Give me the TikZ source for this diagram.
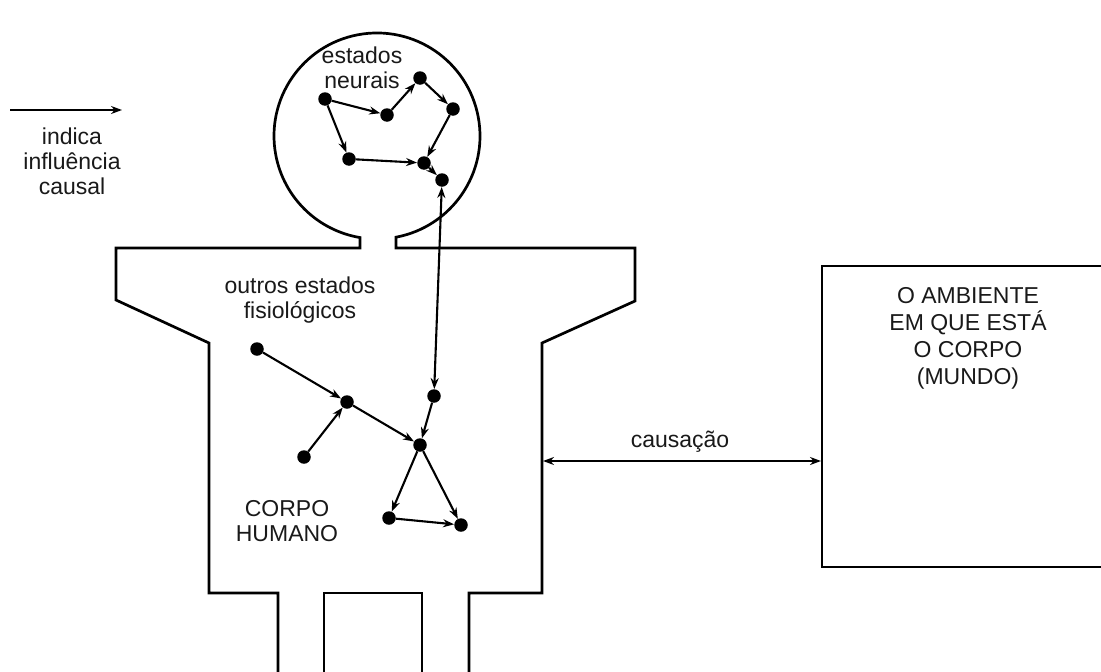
\documentclass[tikz,border=0pt]{standalone}
\usepackage{fontspec}
\setmainfont{Liberation Sans}
\usetikzlibrary{arrows.meta}
\begin{document}
\begin{tikzpicture}[x=1pt,y=-1pt,
  dot/.style={circle, fill=black, minimum size=13.5pt, inner sep=0pt},
  link/.style={line width=2.1pt, -{Stealth[length=11pt,width=8pt]}},
  biglink/.style={line width=2.1pt, {Stealth[length=11pt,width=8pt]}-{Stealth[length=11pt,width=8pt]}},
  outline/.style={line width=2.7pt, line join=miter},
  lbl/.style={font=\fontsize{23}{25}\selectfont, align=center, text=black!90},
  boxlbl/.style={font=\fontsize{23}{27}\selectfont, align=center, text=black!90}]
\useasboundingbox (0,0) rectangle (1101,672);

% body outline with head
\draw[outline] (469,672) -- (469,593) -- (542,593) -- (542,343) -- (635,301) -- (635,248)
  -- (396,248) -- (396,237.2) arc[start angle=79.37, end angle=-260.5, radius=103]
  -- (360,248) -- (116,248) -- (116,300) -- (209,343) -- (209,593) -- (278,593) -- (278,672);
\draw[outline] (324,672) -- (324,593) -- (422,593) -- (422,672);

% environment box
\draw[outline] (1101,266) -- (822,266) -- (822,567) -- (1101,567);
\coordinate (bodyR) at (543,461);
\coordinate (envL) at (821,461);
\draw[biglink] (bodyR) -- (envL);
\node[lbl] (caus) at (680,442) {causação};
\node[boxlbl] (amb) at (968,338) {O AMBIENTE\\EM QUE ESTÁ\\O CORPO\\(MUNDO)};

% legend
\coordinate (lg1) at (10,110);
\coordinate (lg2) at (122,110);
\draw[link, line width=2.6pt] (lg1) -- (lg2);
\node[lbl] (leg) at (72,161) {indica\\influência\\causal};

% labels
\node[lbl] (neur) at (362,68) {estados\\neurais};
\node[lbl] (outr) at (300,300) {outros estados\\fisiológicos};
\node[lbl] (corpo) at (287,521) {CORPO\\HUMANO};

% head dots
\node[dot] (A) at (325,99) {};
\node[dot] (B) at (387,115) {};
\node[dot] (C) at (420,78) {};
\node[dot] (D) at (453,109) {};
\node[dot] (E) at (349,159) {};
\node[dot] (F) at (424,163) {};
\node[dot] (G) at (442,180) {};

% body dots
\node[dot] (I) at (257,349) {};
\node[dot] (J) at (347,402) {};
\node[dot] (K) at (304,457) {};
\node[dot] (L) at (420,445) {};
\node[dot] (H) at (434,396) {};
\node[dot] (M) at (389,518) {};
\node[dot] (N) at (461,525) {};

\draw[link] (A) -- (B);
\draw[link] (B) -- (C);
\draw[link] (C) -- (D);
\draw[link] (D) -- (F);
\draw[link] (A) -- (E);
\draw[link] (E) -- (F);
\draw[link] (F) -- (G);
\draw[biglink] (H) -- (G);

\draw[link] (I) -- (J);
\draw[link] (K) -- (J);
\draw[link] (J) -- (L);
\draw[link] (H) -- (L);
\draw[link] (L) -- (M);
\draw[link] (L) -- (N);
\draw[link] (M) -- (N);
\end{tikzpicture}
\end{document}
